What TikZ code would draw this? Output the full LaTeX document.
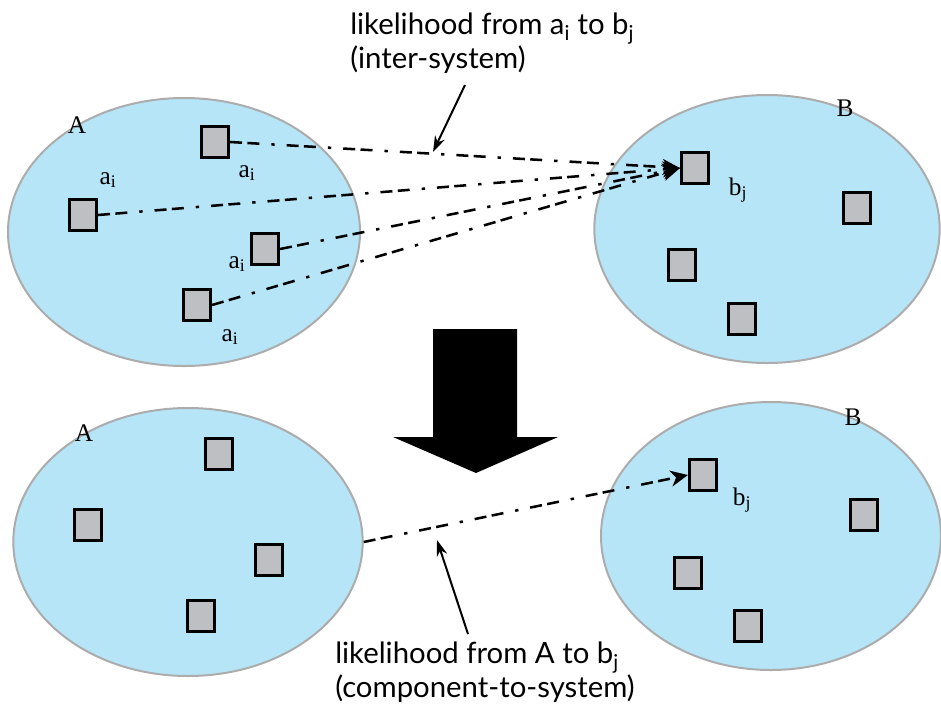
\documentclass[tikz,border=0pt]{standalone}
\usepackage{fontspec}
\setmainfont{Liberation Serif}
\newfontfamily\notefont{Lato}
\usetikzlibrary{shapes.geometric, arrows.meta, positioning}
\definecolor{setblue}{RGB}{183,229,248}
\definecolor{setrim}{RGB}{172,172,172}
\definecolor{compgray}{RGB}{190,191,195}
\tikzstyle{system} = [ellipse, draw=setrim, fill=setblue, line width=1.5pt, inner sep=0pt, minimum height=201pt]
\tikzstyle{comp} = [rectangle, draw=black, fill=compgray, line width=2.1pt, minimum width=20.5pt, minimum height=23.5pt, inner sep=0pt]
\tikzstyle{lbl} = [font=\fontsize{19}{22}\selectfont, inner sep=0pt]
\tikzstyle{note} = [font=\notefont\fontsize{22}{25}\selectfont, align=left, inner sep=0pt]
\tikzstyle{link} = [line width=1.9pt, dash pattern=on 9pt off 4pt on 9pt off 9pt on 2.5pt off 9pt, -{Stealth[length=13pt,width=12pt,inset=4pt]}]
\tikzstyle{pointer} = [line width=1.5pt, -{Stealth[length=12pt,width=8pt]}]

\begin{document}
\begin{tikzpicture}[x=0.75pt, y=-0.75pt]
\useasboundingbox (0,0) rectangle (941,711);

% upper pair of systems
\node (A1) [system, minimum width=264pt] at (184,232) {};
\node (B1) [system, minimum width=259pt] at (767,229) {};
\node [lbl] at (77,125) {A};
\node [lbl] at (845,108) {B};

\node (a1) [comp] at (215,142) {};
\node (a2) [comp] at (83,215) {};
\node (a3) [comp] at (265,249) {};
\node (a4) [comp] at (197,305) {};
\node [lbl] at (247,173) {a\textsubscript{i}};
\node [lbl] at (108,180) {a\textsubscript{i}};
\node [lbl] at (237,264) {a\textsubscript{i}};
\node [lbl] at (230,337) {a\textsubscript{i}};

\node (bj1) [comp] at (695,168) {};
\node (b2) [comp] at (857,208) {};
\node (b3) [comp] at (682,265) {};
\node (b4) [comp] at (742,319) {};
\node [lbl] at (738,190) {b\textsubscript{j}};

\draw [link] (a1.east) -- (bj1.west);
\draw [link] (a2.east) -- (bj1.west);
\draw [link] (a3.east) -- (bj1.west);
\draw [link] (a4.east) -- (bj1.west);

\node (noteT) [note, anchor=north west] at (350,13) {likelihood from a\textsubscript{i} to b\textsubscript{j}\\(inter-system)};
\coordinate (tailT) at (465,85);
\coordinate (tipT) at (433,152);
\draw [pointer] (tailT) -- (tipT);

% block arrow between the two cases
\fill [black] (433,329) -- (517,329) -- (517,437) -- (558,437) -- (476,473) -- (393,437) -- (433,437) -- cycle;

% lower pair of systems
\node (A2) [system, minimum width=262pt] at (188,542) {};
\node (B2) [system, minimum width=255pt] at (771,536) {};
\node [lbl] at (84,433) {A};
\node [lbl] at (853,417) {B};

\node (c1) [comp] at (219,454) {};
\node (c2) [comp] at (88,525) {};
\node (c3) [comp] at (269,560) {};
\node (c4) [comp] at (201,616) {};

\node (bj2) [comp] at (703,475) {};
\node (d2) [comp] at (864,515) {};
\node (d3) [comp] at (688,573) {};
\node (d4) [comp] at (748,626) {};
\node [lbl] at (742,500) {b\textsubscript{j}};

\draw [link] (A2.east) -- (bj2.west);

\node (noteB) [note, anchor=north west] at (335,642) {likelihood from A to b\textsubscript{j}\\(component-to-system)};
\coordinate (tailB) at (468,634);
\coordinate (tipB) at (437,540);
\draw [pointer] (tailB) -- (tipB);

\end{tikzpicture}
\end{document}
